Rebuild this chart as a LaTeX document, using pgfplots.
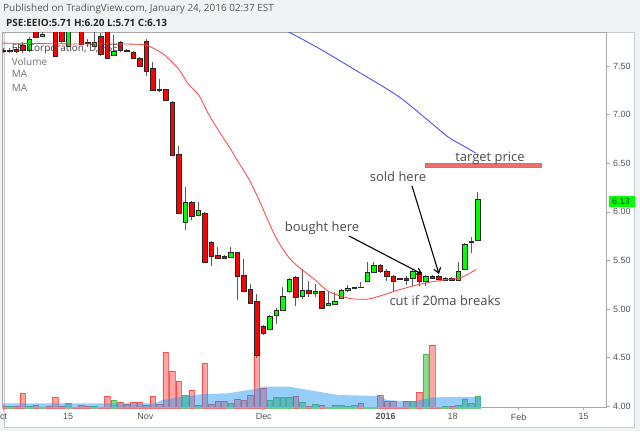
\documentclass[border=0pt]{standalone}
\usepackage{fontspec}
\setmainfont{Open Sans}
\newfontfamily\arial{Liberation Sans}
\usepackage{pgfplots}
\pgfplotsset{compat=1.18}
\usepgfplotslibrary{statistics}
\usetikzlibrary{arrows.meta}

\definecolor{bg}{RGB}{240,243,246}
\definecolor{panelborder}{RGB}{200,204,210}
\definecolor{axisgray}{RGB}{168,168,168}
\definecolor{labgray}{RGB}{85,85,85}
\definecolor{cr}{RGB}{255,0,0}
\definecolor{cg}{RGB}{0,255,0}
\definecolor{volred}{RGB}{255,0,0}
\definecolor{volgreen}{RGB}{0,160,0}
\definecolor{volblue}{RGB}{33,150,243}
\definecolor{mared}{RGB}{255,64,64}
\definecolor{mablue}{RGB}{63,63,255}
\definecolor{targetfill}{RGB}{238,110,110}
\definecolor{anntext}{RGB}{74,74,74}
\definecolor{wick}{RGB}{90,90,90}

\pgfplotsset{
  candle/.style={
    boxplot/draw direction=y,
    boxplot/box extend=0.7,
    boxplot/whisker extend=0,
    boxplot/every median/.style={draw=none},
    boxplot/every whisker/.style={draw=wick, line width=0.7bp},
  },
}
% \cdl{index}{low}{body low}{body high}{high}{colour}
\newcommand\cdl[6]{\addplot[candle, fill=#6, draw=black!85, line width=0.5bp,
  boxplot/every box/.style={fill=#6, draw=black!85, line width=0.5bp},
  boxplot prepared={draw position=#1, lower whisker=#2, lower quartile=#3,
  median=#3, upper quartile=#4, upper whisker=#5}] coordinates {};}

\begin{document}
\begin{tikzpicture}[x=1bp,y=1bp]
\fill[bg] (0,0) rectangle (640,-431);
\draw[panelborder, fill=white, line width=0.8bp] (4,-32) rectangle (634,-427);

% ---------------- volume pane ----------------
\begin{axis}[at={(4,-33)}, anchor=north west, width=604bp, height=375bp,
  scale only axis, xmin=-0.08, xmax=92.85, ymin=0, ymax=375, hide axis, clip=true]
\addplot[ybar, bar width=5.6bp, bar shift=0pt, fill=volred, fill opacity=0.35,
  draw=volred, draw opacity=0.55, line width=0.5bp] coordinates {
(0,2)(2,2)(3,15)(5,3)(7,2)(8,11)(9,2)(11,1)(12,3)(13,2)(15,1)(16,12)(18,6)(19,4)
(20,6)(21,6)(22,3)(23,12)(24,4)(25,56)(26,37)(27,27)(29,18)(31,45)(32,4)(33,7)
(34,7)(36,9)(37,8)(38,13)(39,93)(40,20)(45,12)(47,2)(49,3)(55,5)(58,13)(59,7)
(60,7)(61,1)(62,7)(64,16)(66,63)(67,1)(69,2)};
\addplot[ybar, bar width=5.6bp, bar shift=0pt, fill=volgreen, fill opacity=0.42,
  draw=volgreen, draw opacity=0.5, line width=0.5bp] coordinates {
(1,2)(4,2)(6,1)(10,5)(14,2)(17,8)(28,13)(30,3)(35,5)(41,8)(42,11)(43,11)(44,11)
(46,6)(48,4)(50,1)(51,3)(52,3)(53,2)(54,3)(56,1)(57,1)(63,7)(65,54)(68,2)(70,3)
(71,9)(72,5)(73,12)};
\addplot[draw=none, fill=volblue, fill opacity=0.47] coordinates {
(-0.1,4.7)(23.3,4.7)(24.5,8)(27,11)(30.8,14)(34.6,14.7)(38.4,18.7)(40.3,21.3)
(44.1,21.3)(48.5,16.3)(51.6,13)(58,12)(59,8)(63,6.3)(66.1,10.7)(73.5,11.3)} \closedcycle;
\end{axis}

% ---------------- price pane ----------------
\begin{axis}[at={(4,-33)}, anchor=north west, width=604bp, height=375bp,
  scale only axis, xmin=-0.08, xmax=92.85, ymin=3.9897, ymax=7.8517,
  axis line style={draw=axisgray, line width=0.6bp},
  xtick={0.08,10,21.9,40.1,58.85,69.15,79.3,89.3},
  xticklabels={ct,15,Nov,Dec,\textbf{2016},18,Feb,15},
  ytick={4,4.5,5,5.5,6,6.5,7,7.5},
  xtick pos=left, ytick pos=right, yticklabel pos=right,
  tick align=outside, major tick length=3bp,
  tick style={draw=axisgray, line width=0.6bp},
  ticklabel style={font=\arial\fontsize{9}{10}\selectfont, text=labgray},
  /pgf/number format/assume math mode=true,
  yticklabel style={/pgf/number format/fixed, /pgf/number format/fixed zerofill,
    /pgf/number format/precision=2},
  clip=true]

\cdl{0}{7.64}{7.655}{7.667}{7.69}{cr}
\cdl{1}{7.64}{7.655}{7.667}{7.69}{cg}
\cdl{2}{7.64}{7.656}{7.677}{7.70}{cr}
\cdl{3}{7.64}{7.66}{7.72}{7.75}{cr}
\cdl{4}{7.65}{7.667}{7.78}{7.80}{cg}
\cdl{5}{7.79}{7.80}{7.88}{7.92}{cr}
\cdl{6}{7.80}{7.81}{7.83}{7.90}{cg}
\cdl{7}{7.88}{7.90}{7.98}{8.00}{cr}
\cdl{8}{7.59}{7.605}{7.95}{7.97}{cr}
\cdl{9}{7.74}{7.76}{7.92}{7.95}{cr}
\cdl{10}{7.70}{7.71}{7.92}{7.95}{cg}
\cdl{11}{7.92}{7.93}{8.00}{8.02}{cr}
\cdl{12}{7.72}{7.73}{7.92}{7.95}{cr}
\cdl{13}{7.70}{7.74}{7.745}{7.78}{cr}
\cdl{14}{7.70}{7.71}{7.75}{7.85}{cg}
\cdl{15}{7.60}{7.625}{7.81}{7.84}{cr}
\cdl{16}{7.57}{7.585}{7.90}{7.93}{cr}
\cdl{17}{7.60}{7.615}{7.656}{7.82}{cg}
\cdl{18}{7.65}{7.667}{7.75}{7.76}{cr}
\cdl{19}{7.645}{7.656}{7.667}{7.675}{cr}
\cdl{20}{7.575}{7.584}{7.646}{7.655}{cr}
\cdl{21}{7.49}{7.50}{7.584}{7.59}{cr}
\cdl{22}{7.40}{7.45}{7.76}{7.78}{cr}
\cdl{23}{7.24}{7.255}{7.48}{7.54}{cr}
\cdl{24}{7.23}{7.255}{7.258}{7.37}{cr}
\cdl{25}{7.14}{7.15}{7.265}{7.27}{cr}
\cdl{26}{6.575}{6.585}{7.13}{7.14}{cr}
\cdl{27}{5.98}{5.99}{6.595}{6.68}{cr}
\cdl{28}{5.81}{5.895}{6.10}{6.255}{cg}
\cdl{29}{5.916}{5.957}{6.10}{6.11}{cr}
\cdl{30}{5.96}{5.967}{6.02}{6.10}{cg}
\cdl{31}{5.47}{5.483}{5.99}{6.00}{cr}
\cdl{32}{5.44}{5.545}{5.69}{5.70}{cr}
\cdl{33}{5.515}{5.524}{5.555}{5.64}{cr}
\cdl{34}{5.51}{5.524}{5.545}{5.56}{cr}
\cdl{35}{5.53}{5.535}{5.586}{5.64}{cg}
\cdl{36}{5.09}{5.34}{5.586}{5.59}{cr}
\cdl{37}{5.17}{5.18}{5.35}{5.51}{cr}
\cdl{38}{5.05}{5.06}{5.205}{5.256}{cr}
\cdl{39}{4.50}{4.525}{5.08}{5.15}{cr}
\cdl{40}{4.73}{4.75}{4.82}{4.83}{cr}
\cdl{41}{4.78}{4.79}{4.92}{4.94}{cg}
\cdl{42}{4.85}{4.94}{4.99}{5.01}{cg}
\cdl{43}{4.98}{4.99}{5.13}{5.23}{cg}
\cdl{44}{5.16}{5.185}{5.31}{5.32}{cg}
\cdl{45}{5.03}{5.12}{5.33}{5.34}{cr}
\cdl{46}{5.10}{5.13}{5.195}{5.41}{cg}
\cdl{47}{5.12}{5.165}{5.195}{5.29}{cr}
\cdl{48}{5.12}{5.165}{5.185}{5.26}{cg}
\cdl{49}{5.00}{5.01}{5.185}{5.19}{cr}
\cdl{50}{5.03}{5.04}{5.06}{5.17}{cg}
\cdl{51}{5.04}{5.05}{5.08}{5.17}{cg}
\cdl{52}{5.10}{5.11}{5.195}{5.21}{cg}
\cdl{53}{5.17}{5.195}{5.215}{5.245}{cg}
\cdl{54}{5.21}{5.215}{5.222}{5.23}{cg}
\cdl{55}{5.22}{5.225}{5.227}{5.28}{cr}
\cdl{56}{5.28}{5.29}{5.38}{5.48}{cg}
\cdl{57}{5.37}{5.38}{5.45}{5.48}{cg}
\cdl{58}{5.37}{5.39}{5.45}{5.46}{cr}
\cdl{59}{5.29}{5.34}{5.39}{5.41}{cr}
\cdl{60}{5.18}{5.29}{5.34}{5.35}{cr}
\cdl{61}{5.30}{5.31}{5.312}{5.32}{cr}
\cdl{62}{5.25}{5.30}{5.32}{5.34}{cr}
\cdl{63}{5.24}{5.32}{5.39}{5.41}{cg}
\cdl{64}{5.24}{5.29}{5.38}{5.40}{cr}
\cdl{65}{5.24}{5.29}{5.34}{5.35}{cg}
\cdl{66}{5.31}{5.32}{5.34}{5.35}{cr}
\cdl{67}{5.30}{5.31}{5.34}{5.345}{cr}
\cdl{68}{5.29}{5.30}{5.32}{5.33}{cg}
\cdl{69}{5.29}{5.30}{5.32}{5.325}{cr}
\cdl{70}{5.29}{5.30}{5.39}{5.48}{cg}
\cdl{71}{5.40}{5.41}{5.67}{5.68}{cg}
\cdl{72}{5.58}{5.69}{5.70}{5.74}{cg}
\cdl{73}{5.71}{5.71}{6.13}{6.20}{cg}

% 20-day moving average
\addplot[mared, line width=0.8bp, smooth] coordinates {
(-0.1,7.738)(12.1,7.728)(18.9,7.728)(21.9,7.718)(23.9,7.656)(25.0,7.605)(27.0,7.471)
(28.5,7.316)(30.1,7.203)(31.6,7.007)(33.2,6.832)(35.0,6.647)(35.9,6.544)(37.8,6.338)
(39.3,6.132)(40.8,5.905)(42.1,5.72)(43.9,5.535)(45.5,5.43)(47.8,5.31)(50.1,5.18)
(53.2,5.11)(55.9,5.10)(57.8,5.13)(60.1,5.18)(62.4,5.225)(65.0,5.267)(67.8,5.298)
(70.1,5.318)(71.6,5.36)(72.8,5.41)};
% long moving average
\addplot[mablue, line width=0.8bp, smooth] coordinates {
(43.15,7.88)(48.5,7.687)(54.7,7.44)(60.8,7.19)(65.5,6.935)(68.5,6.77)(70.8,6.68)(72.7,6.606)};

% target price zone
\draw[draw=black!45, fill=targetfill, line width=0.5bp]
  (axis cs:65.0,6.461) rectangle (axis cs:82.85,6.502);
\end{axis}

% ---------------- annotations ----------------
\begin{scope}[font=\fontsize{13}{15}\selectfont, text=anntext]
\node at (490,-158) {target price};
\node at (398,-177) {sold here};
\node at (322,-228) {bought here};
\node at (445,-301) {cut if 20ma breaks};
\end{scope}
\draw[black, line width=1.1bp, -{Straight Barb[length=5bp,width=7bp]}] (349,-236) -- (422,-274);
\draw[black, line width=1.1bp, -{Straight Barb[length=5bp,width=7bp]}] (412,-186) -- (439,-274);

% last price tag
\fill[cg] (609,-195.5) rectangle (635,-206.5);
\node[font=\arial\fontsize{9}{10}\selectfont, text=black!80, anchor=west, inner sep=0pt] at (612,-201) {6.13};

% legend texts
\node[anchor=base west, inner sep=0pt, font=\fontsize{10}{12}\selectfont, text=black!75] at (11.7,-51.5) {FEI Corporation, D, PSE};
\node[anchor=base west, inner sep=0pt, font=\fontsize{10}{12}\selectfont, text=black!55] at (11.7,-65) {Volume};
\node[anchor=base west, inner sep=0pt, font=\fontsize{10}{12}\selectfont, text=black!55] at (11.7,-77.5) {MA};
\node[anchor=base west, inner sep=0pt, font=\fontsize{10}{12}\selectfont, text=black!55] at (11.7,-91.5) {MA};

% header
\node[anchor=base west, inner sep=0pt, font=\fontsize{10}{12}\selectfont, text=black!65] at (3,-11.7) {Published on TradingView.com, January 24, 2016 02:37 EST};
\node[anchor=base west, inner sep=0pt, font=\bfseries\fontsize{10}{12}\selectfont, text=black!85] at (6,-26.5) {PSE:EEIO:5.71 H:6.20 L:5.71 C:6.13};

\pgfresetboundingbox
\useasboundingbox (0,0) rectangle (640,-431);
\end{tikzpicture}
\end{document}
